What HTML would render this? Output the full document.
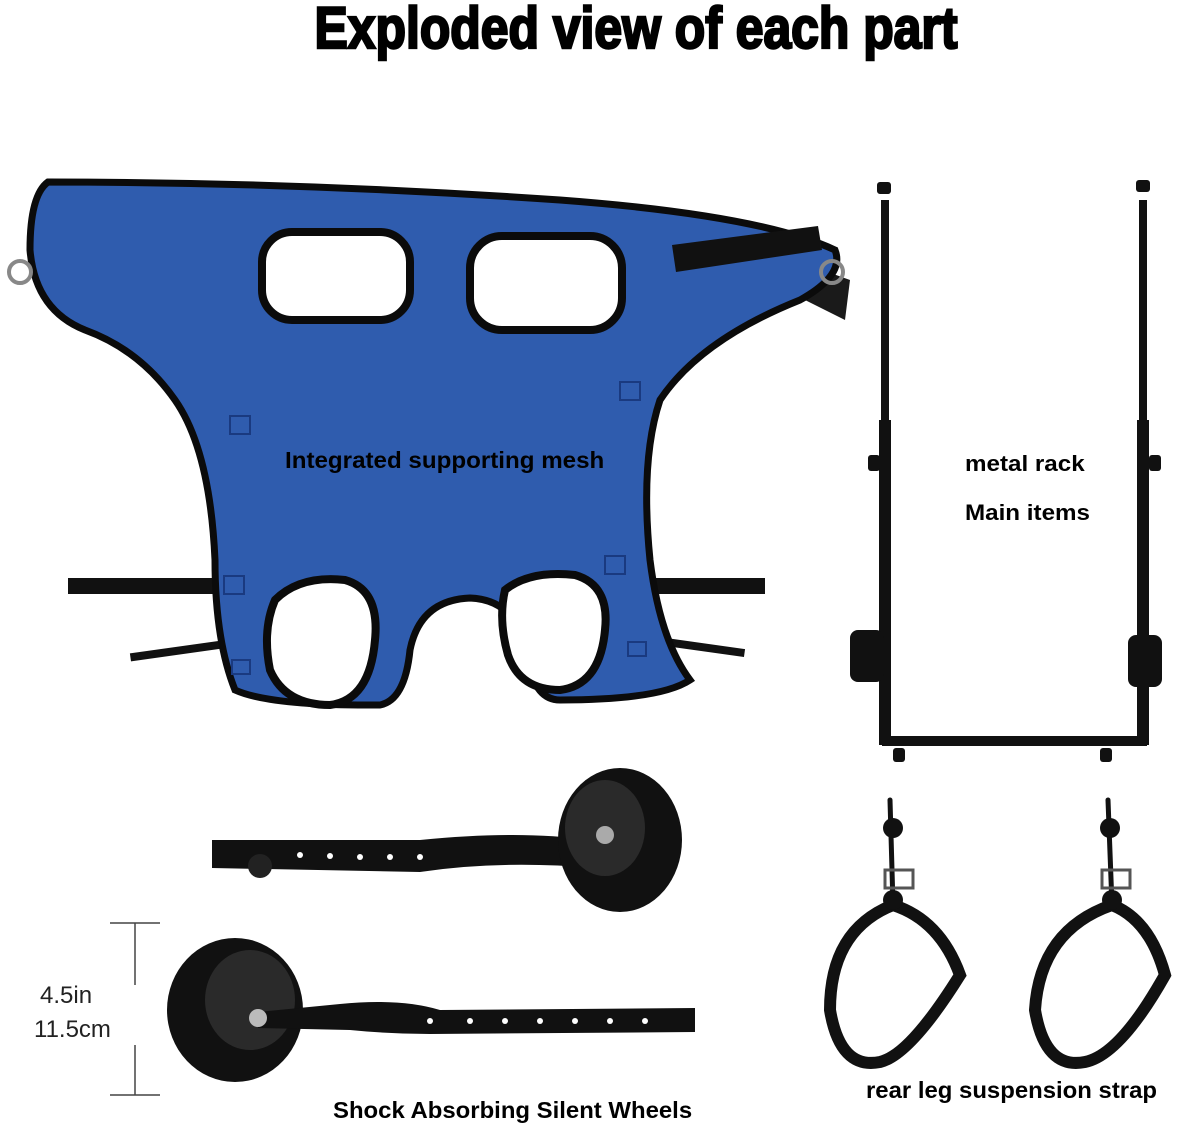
<!DOCTYPE html>
<html><head><meta charset="utf-8"><style>
html,body{margin:0;padding:0;background:#fff;}
svg{display:block}
.t{font-family:"Liberation Sans",sans-serif;font-weight:bold;}
</style></head><body>
<svg width="1200" height="1128" viewBox="0 0 1200 1128" xmlns="http://www.w3.org/2000/svg">
<rect width="1200" height="1128" fill="#fff"/>
<text class="t" x="636" y="48" font-size="58" text-anchor="middle" transform="translate(636 0) scale(0.86 1) translate(-636 0)" fill="#000" stroke="#000" stroke-width="2.5">Exploded view of each part</text>

<!-- harness straps behind -->
<rect x="68" y="578" width="180" height="16" fill="#111"/>
<rect x="600" y="578" width="165" height="16" fill="#111"/>
<rect x="130" y="645" width="120" height="8" fill="#111" transform="rotate(-8 190 650)"/>
<rect x="620" y="640" width="125" height="8" fill="#111" transform="rotate(8 680 645)"/>
<path d="M800 262 L850 280 L845 320 L805 300 Z" fill="#1a1a1a"/>
<!-- harness body -->
<path d="M48 182 Q300 182 560 200 Q760 215 835 250 Q845 275 800 300 Q700 340 660 400 Q640 460 650 560 Q660 640 690 680 Q660 700 560 700 Q535 700 528 660 Q520 600 470 598 Q420 600 410 650 Q405 700 380 705 Q270 706 235 690 Q215 640 215 560 Q210 450 175 400 Q140 350 85 330 Q35 310 30 250 Q30 195 48 182 Z" fill="#2f5cae" stroke="#0b0b0b" stroke-width="7"/>
<!-- holes -->
<rect x="262" y="232" width="148" height="88" rx="30" fill="#fff" stroke="#0b0b0b" stroke-width="8"/>
<rect x="470" y="236" width="152" height="94" rx="32" fill="#fff" stroke="#0b0b0b" stroke-width="8"/>
<path d="M275 600 Q300 575 345 580 Q380 590 375 640 Q370 700 330 705 Q285 705 270 670 Q262 630 275 600 Z" fill="#fff" stroke="#0b0b0b" stroke-width="8"/>
<path d="M505 590 Q530 570 575 575 Q610 585 605 630 Q600 685 560 690 Q520 690 508 655 Q498 620 505 590 Z" fill="#fff" stroke="#0b0b0b" stroke-width="8"/>
<path d="M672 245 L818 226 L822 250 L676 272 Z" fill="#111"/>
<circle cx="20" cy="272" r="11" fill="none" stroke="#888" stroke-width="4"/>
<circle cx="832" cy="272" r="11" fill="none" stroke="#888" stroke-width="4"/>
<g stroke="#1a3a80" stroke-width="2" fill="none">
<rect x="230" y="416" width="20" height="18"/><rect x="620" y="382" width="20" height="18"/>
<rect x="224" y="576" width="20" height="18"/><rect x="605" y="556" width="20" height="18"/>
<rect x="232" y="660" width="18" height="14"/><rect x="628" y="642" width="18" height="14"/>
</g>
<text class="t" x="285" y="468" font-size="23" fill="#000" transform="translate(285 0) scale(1.05 1) translate(-285 0)">Integrated supporting mesh</text>

<!-- metal rack -->
<g fill="#111">
<rect x="881" y="200" width="8" height="545"/>
<rect x="879" y="420" width="12" height="325"/>
<rect x="1139" y="200" width="8" height="545"/>
<rect x="1137" y="420" width="12" height="325"/>
<rect x="882" y="736" width="265" height="10"/>
<rect x="877" y="182" width="14" height="12" rx="3"/><rect x="1136" y="180" width="14" height="12" rx="3"/>
<rect x="868" y="455" width="12" height="16" rx="3"/><rect x="1149" y="455" width="12" height="16" rx="3"/>
<rect x="850" y="630" width="34" height="52" rx="8"/><rect x="1128" y="635" width="34" height="52" rx="8"/>
<rect x="893" y="748" width="12" height="14" rx="3"/><rect x="1100" y="748" width="12" height="14" rx="3"/>
</g>
<text class="t" x="965" y="471" font-size="22" fill="#000" transform="translate(965 0) scale(1.1 1) translate(-965 0)">metal rack</text>
<text class="t" x="965" y="520" font-size="22" fill="#000" transform="translate(965 0) scale(1.1 1) translate(-965 0)">Main items</text>

<!-- upper wheel assembly -->
<path d="M212 840 L420 840 Q520 830 590 840 L595 868 Q500 860 420 872 L212 868 Z" fill="#111"/>
<circle cx="260" cy="866" r="12" fill="#222"/>
<g fill="#fff"><circle cx="300" cy="855" r="3"/><circle cx="330" cy="856" r="3"/><circle cx="360" cy="857" r="3"/><circle cx="390" cy="857" r="3"/><circle cx="420" cy="857" r="3"/></g>
<ellipse cx="620" cy="840" rx="62" ry="72" fill="#111"/>
<ellipse cx="605" cy="828" rx="40" ry="48" fill="#2a2a2a"/>
<circle cx="605" cy="835" r="9" fill="#aaa"/>

<!-- lower wheel assembly -->
<ellipse cx="235" cy="1010" rx="68" ry="72" fill="#111"/>
<ellipse cx="250" cy="1000" rx="45" ry="50" fill="#2a2a2a"/>
<path d="M258 1012 L340 1004 Q400 998 440 1010 L695 1008 L695 1032 L430 1034 Q390 1034 350 1030 L258 1028 Z" fill="#111"/>
<circle cx="258" cy="1018" r="9" fill="#bbb"/>
<g fill="#fff"><circle cx="430" cy="1021" r="3"/><circle cx="470" cy="1021" r="3"/><circle cx="505" cy="1021" r="3"/><circle cx="540" cy="1021" r="3"/><circle cx="575" cy="1021" r="3"/><circle cx="610" cy="1021" r="3"/><circle cx="645" cy="1021" r="3"/></g>
<g stroke="#444" stroke-width="1.5"><line x1="110" y1="923" x2="160" y2="923"/><line x1="135" y1="923" x2="135" y2="985"/><line x1="135" y1="1045" x2="135" y2="1095"/><line x1="110" y1="1095" x2="160" y2="1095"/></g>
<text x="40" y="1003" font-family="Liberation Sans,sans-serif" font-size="24" fill="#222">4.5in</text>
<text x="34" y="1037" font-family="Liberation Sans,sans-serif" font-size="24" fill="#222">11.5cm</text>
<text class="t" x="333" y="1118" font-size="23" fill="#000" transform="translate(333 0) scale(1.04 1) translate(-333 0)">Shock Absorbing Silent Wheels</text>

<!-- straps -->
<g fill="none" stroke="#111" stroke-linecap="round">
<path d="M890 800 L893 905" stroke-width="5"/>
<path d="M1108 800 L1112 905" stroke-width="5"/>
<path d="M893 905 Q830 930 830 1010 Q840 1070 880 1062 Q910 1055 960 975 Q940 920 893 905" stroke-width="12"/>
<path d="M1112 905 Q1040 930 1035 1010 Q1045 1070 1085 1062 Q1120 1055 1165 975 Q1150 920 1112 905" stroke-width="12"/>
</g>
<g fill="#111"><circle cx="893" cy="828" r="10"/><circle cx="1110" cy="828" r="10"/><circle cx="893" cy="900" r="10"/><circle cx="1112" cy="900" r="10"/></g>
<rect x="885" y="870" width="28" height="18" fill="none" stroke="#555" stroke-width="3"/>
<rect x="1102" y="870" width="28" height="18" fill="none" stroke="#555" stroke-width="3"/>
<text class="t" x="866" y="1098" font-size="23" fill="#000" transform="translate(866 0) scale(1.04 1) translate(-866 0)">rear leg suspension strap</text>
</svg>
</body></html>
